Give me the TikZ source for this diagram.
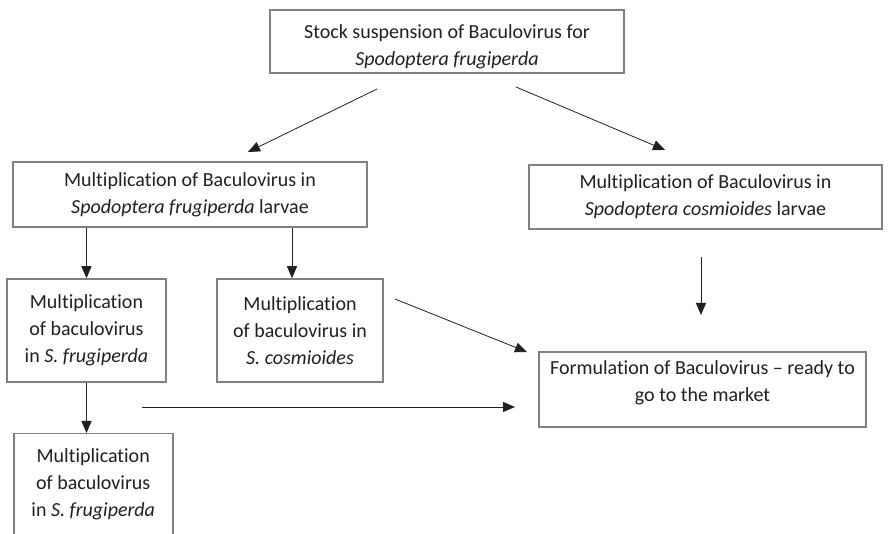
\documentclass[tikz,border=0pt]{standalone}
\usepackage{fontspec}
\setmainfont{Carlito}[Ligatures=NoCommon]
\usetikzlibrary{arrows.meta}
\definecolor{boxgray}{HTML}{808080}
\definecolor{ink}{HTML}{231F20}
\begin{document}
\begin{tikzpicture}[x=1pt,y=-1pt,
  box/.style={draw=boxgray, line width=1.5pt, fill=white, align=center,
    inner sep=0pt, text=ink, font=\fontsize{20}{27}\selectfont},
  arr/.style={draw=ink, line width=0.8pt, -{Triangle[length=12pt,width=10pt]}}]
\clip (0,0) rectangle (889,534);
\fill[white] (0,0) rectangle (889,534);

% boxes
\node[box, minimum width=354pt, minimum height=63pt, text height=52pt] (stock) at (447,41.5)
  {Stock suspension of Baculovirus for\\\textit{Spodoptera frugiperda}};
\node[box, minimum width=354pt, minimum height=65pt] (fl) at (190,194.5)
  {Multiplication of Baculovirus in\\\textit{Spodoptera frugiperda} larvae};
\node[box, minimum width=353pt, minimum height=64pt] (cl) at (705.5,197)
  {Multiplication of Baculovirus in\\\textit{Spodoptera cosmioides} larvae};
\node[box, minimum width=159pt, minimum height=103pt] (sfa) at (86.5,330.5)
  {Multiplication\\of baculovirus\\in \textit{S. frugiperda}};
\node[box, minimum width=166pt, minimum height=103pt] (sc) at (300,330.5)
  {Multiplication\\of baculovirus in\\\textit{S. cosmioides}};
\node[box, minimum width=327pt, minimum height=75pt, text depth=16pt] (form) at (702.5,389.5)
  {Formulation of Baculovirus – ready to\\go to the market};
\node[box, minimum width=159pt, minimum height=124pt, anchor=north west] (sfb) at (13,433)
  {Multiplication\\of baculovirus\\in \textit{S. frugiperda}\\ };

% free ends of the connectors
\coordinate (s1) at (377,89);  \coordinate (t1) at (248,152);
\coordinate (s2) at (516,87);  \coordinate (t2) at (665,150);
\coordinate (s3) at (701,257); \coordinate (t3) at (701,315);
\coordinate (s4) at (395,299); \coordinate (t4) at (527,352);
\coordinate (s5) at (142,407); \coordinate (t5) at (515,407);
\coordinate (x1) at (292,0);

% connectors
\draw[arr] (s1) -- (t1);
\draw[arr] (s2) -- (t2);
\draw[arr] (sfa.north |- fl.south) -- (sfa.north);
\draw[arr] (x1 |- fl.south) -- (x1 |- sc.north);
\draw[arr] (s3) -- (t3);
\draw[arr] (s4) -- (t4);
\draw[arr] (s5) -- (t5);
\draw[arr] (sfa.south) -- (sfa.south |- sfb.north);
\end{tikzpicture}
\end{document}
